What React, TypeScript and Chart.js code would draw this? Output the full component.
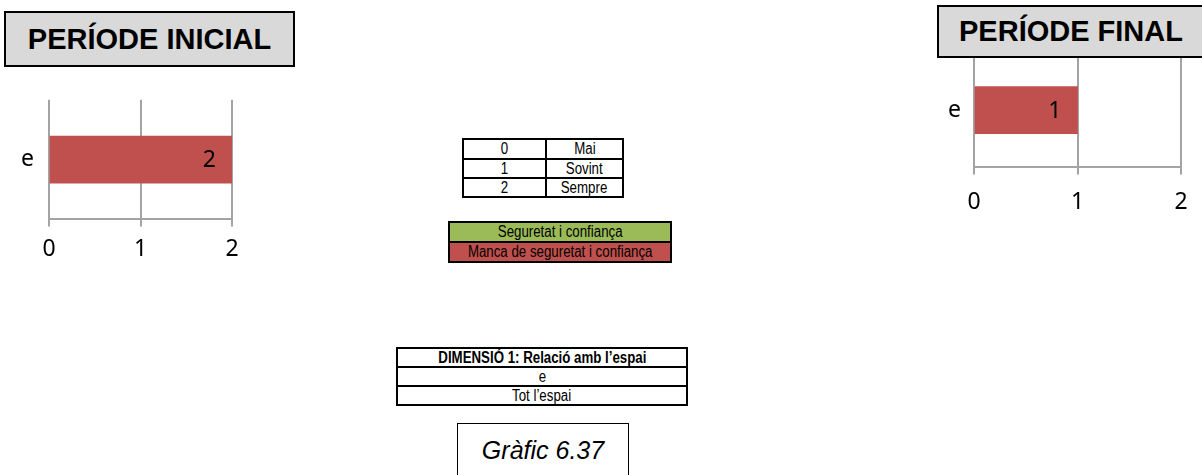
import React, { useEffect, useRef } from "react";
import { Chart, registerables } from "chart.js";

Chart.register(...registerables);

// ---- data ----
const categories = ["e"];
const initialValues = [2];
const finalValues = [1];
const xTicks = [0, 1, 2];
const scaleRows = [
  ["0", "Mai"],
  ["1", "Sovint"],
  ["2", "Sempre"],
];
const legendRows = ["Seguretat i confiança", "Manca de seguretat i confiança"];
const dimensionRows = ["DIMENSIÓ 1: Relació amb l’espai", "e", "Tot l’espai"];
const titleInitial = "PERÍODE INICIAL";
const titleFinal = "PERÍODE FINAL";
const chartCaption = "Gràfic 6.37";

const BAR_RED = "#C0504D";
const GREEN = "#9BBB59";
const GRID = "#a3a3a3";
const TICK_FONT = '"Noto Sans", "Open Sans", sans-serif';
const NARROW = '"Liberation Sans", Arial, sans-serif';

const valueLabels = {
  id: "valueLabels",
  afterDatasetsDraw(chart: any) {
    const ctx = chart.ctx;
    chart.data.datasets.forEach((ds: any, i: number) => {
      chart.getDatasetMeta(i).data.forEach((el: any, j: number) => {
        ctx.save();
        ctx.font = `23px ${TICK_FONT}`;
        ctx.fillStyle = "#000";
        ctx.textAlign = "right";
        ctx.textBaseline = "middle";
        ctx.fillText(String(ds.data[j]), el.x - 16, el.y + 1);
        ctx.restore();
      });
    });
  },
};

function BarChart(props: {
  values: number[];
  left: number;
  top: number;
  width: number;
  height: number;
  yWidth: number;
  pad: { top: number; right: number; bottom: number; left: number };
  yPad: number;
  tickPad: number;
}) {
  const ref = useRef<HTMLCanvasElement>(null);
  useEffect(() => {
    const chart = new Chart(ref.current as HTMLCanvasElement, {
      type: "bar",
      data: {
        labels: categories,
        datasets: [
          {
            data: props.values,
            backgroundColor: BAR_RED,
            borderWidth: 0,
            barThickness: 47,
          },
        ],
      },
      options: {
        indexAxis: "y",
        animation: false,
        responsive: false,
        devicePixelRatio: 1,
        layout: { padding: props.pad },
        plugins: { legend: { display: false }, tooltip: { enabled: false } },
        scales: {
          x: {
            min: xTicks[0],
            max: xTicks[xTicks.length - 1],
            afterBuildTicks: (scale: any) => {
              scale.ticks = xTicks.map((v) => ({ value: v }));
            },
            ticks: {
              color: "#000",
              font: { family: TICK_FONT, size: 23 },
              padding: props.tickPad,
            },
            grid: { color: GRID, lineWidth: 2, tickLength: 7, drawTicks: true },
            border: { display: true, color: GRID, width: 2 },
          },
          y: {
            afterFit: (scale: any) => {
              scale.width = props.yWidth;
            },
            ticks: {
              color: "#000",
              font: { family: TICK_FONT, size: 23 },
              padding: props.yPad,
            },
            grid: { display: false, drawTicks: false },
            border: { display: false },
          },
        },
      },
      plugins: [valueLabels],
    } as any);
    return () => chart.destroy();
  }, []);
  return (
    <canvas
      ref={ref}
      width={props.width}
      height={props.height}
      style={{ position: "absolute", left: props.left, top: props.top, width: props.width, height: props.height }}
    />
  );
}

function TitleBox(props: { text: string; left: number; top: number; width: number; height: number }) {
  return (
    <div
      style={{
        position: "absolute",
        left: props.left,
        top: props.top,
        width: props.width,
        height: props.height,
        boxSizing: "border-box",
        border: "2px solid #000",
        background: "#D9D9D9",
        display: "flex",
        alignItems: "center",
        justifyContent: "center",
        fontFamily: '"Liberation Sans", Arial, sans-serif',
        fontWeight: "bold",
        fontSize: 29,
        zIndex: 2,
        whiteSpace: "nowrap",
      }}
    >
      {props.text}
    </div>
  );
}

type Row = { cells: string[]; height: number; bg?: string; bold?: boolean };

function Grid(props: { left: number; top: number; width: number; cols: number[]; rows: Row[]; fontSize: number }) {
  return (
    <div
      style={{
        position: "absolute",
        left: props.left,
        top: props.top,
        width: props.width,
        boxSizing: "border-box",
        border: "2px solid #000",
        fontFamily: NARROW,
        fontSize: props.fontSize,
        color: "#000",
      }}
    >
      {props.rows.map((r, i) => (
        <div
          key={i}
          style={{
            display: "flex",
            height: r.height,
            borderTop: i === 0 ? "none" : "2px solid #000",
            background: r.bg || "transparent",
            fontWeight: r.bold ? "bold" : "normal",
          }}
        >
          {r.cells.map((c, j) => (
            <div
              key={j}
              style={{
                width: props.cols[j],
                flex: props.cols[j] ? "none" : 1,
                borderLeft: j === 0 ? "none" : "2px solid #000",
                display: "flex",
                alignItems: "center",
                justifyContent: "center",
                lineHeight: 1,
                whiteSpace: "nowrap",
                overflow: "hidden",
              }}
            >
              <span style={{ display: "inline-block", transform: "scaleX(0.83)" }}>{c}</span>
            </div>
          ))}
        </div>
      ))}
    </div>
  );
}

export default function App() {
  return (
    <div
      style={{
        position: "fixed",
        left: 0,
        top: 0,
        width: 1202,
        height: 475,
        overflow: "hidden",
        background: "#fff",
      }}
    >
      <TitleBox text={titleInitial} left={4} top={11} width={291} height={56} />
      <TitleBox text={titleFinal} left={937} top={5} width={268} height={53} />

      <BarChart
        values={initialValues}
        left={0}
        top={71}
        width={300}
        height={202}
        yWidth={49}
        yPad={15}
        tickPad={9}
        pad={{ top: 13, right: 68, bottom: 1, left: 0 }}
      />
      <BarChart
        values={finalValues}
        left={900}
        top={26}
        width={302}
        height={210}
        yWidth={74}
        yPad={13}
        tickPad={14}
        pad={{ top: 14, right: 21, bottom: 6, left: 0 }}
      />

      <Grid
        left={462}
        top={138}
        width={162}
        cols={[81, 0]}
        fontSize={16}
        rows={scaleRows.map((r, i) => ({ cells: r, height: i === 0 ? 18 : 17 }))}
      />
      <Grid
        left={448}
        top={221}
        width={224}
        cols={[0]}
        fontSize={16}
        rows={legendRows.map((t, i) => ({ cells: [t], height: 18, bg: i === 0 ? GREEN : BAR_RED }))}
      />
      <Grid
        left={396}
        top={347}
        width={292}
        cols={[0]}
        fontSize={16}
        rows={dimensionRows.map((t, i) => ({ cells: [t], height: 17, bold: i === 0 }))}
      />

      <div
        style={{
          position: "absolute",
          left: 457,
          top: 423,
          width: 172,
          height: 70,
          boxSizing: "border-box",
          border: "1px solid #000",
          fontFamily: '"Liberation Sans", Arial, sans-serif',
          fontStyle: "italic",
          fontSize: 25,
          textAlign: "center",
          paddingTop: 12,
        }}
      >
        {chartCaption}
      </div>
    </div>
  );
}
